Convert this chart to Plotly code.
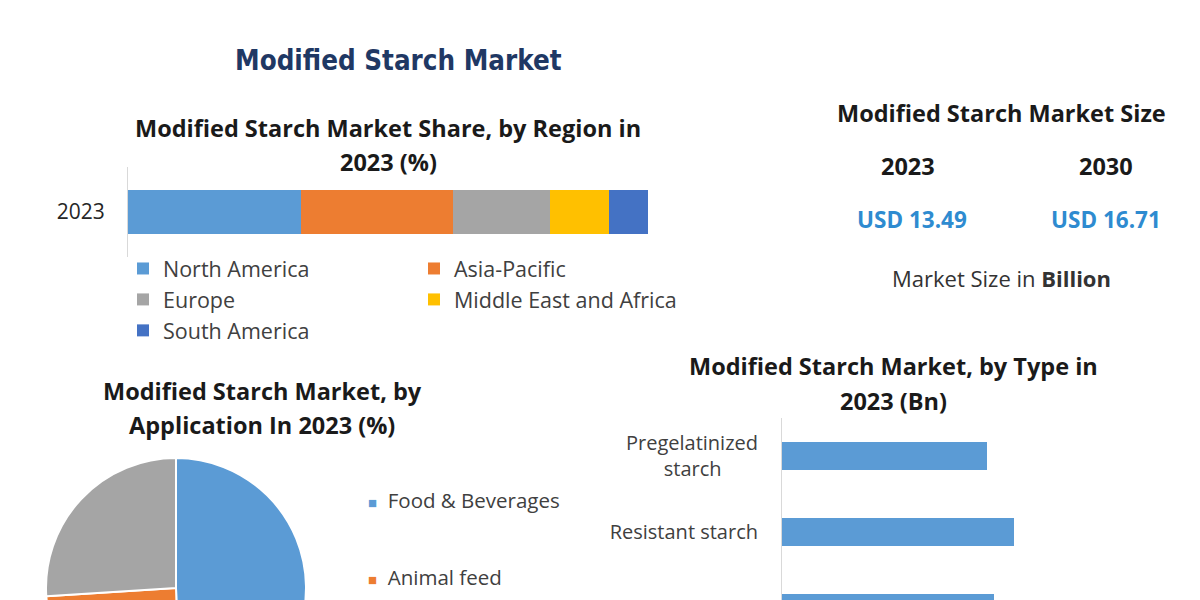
import plotly.graph_objects as go

W, H = 1200, 760

# region share 2023 (%)
region_year = ["2023"]
regions = ["North America", "Asia-Pacific", "Europe", "Middle East and Africa", "South America"]
region_share = [33.3, 29.2, 18.6, 11.4, 7.5]
region_colors = ["#5B9BD5", "#ED7D31", "#A5A5A5", "#FFC000", "#4472C4"]

# application share 2023 (%)
applications = ["Food & Beverages", "Animal feed", "Others"]
application_share = [49.5, 24.5, 26.0]
application_colors = ["#5B9BD5", "#ED7D31", "#A5A5A5"]

# type 2023 (Bn)
types = ["Pregelatinized starch", "Resistant starch", "Etherified starch"]
type_ticktext = ["Pregelatinized<br>starch       ", "Resistant starch", "Etherified starch"]
type_size_bn = [3.55, 4.02, 3.67]

# market size
size_years = ["2023", "2030"]
size_values = ["USD 13.49", "USD 16.71"]

FONT = "Open Sans"
PAGE_OFFSET = 8  # body margin of the html page


def fx(px):
    return (px - PAGE_OFFSET) / W


def fy(py):
    return 1 - (py - PAGE_OFFSET) / H


fig = go.Figure()

for i, (name, val, col) in enumerate(zip(regions, region_share, region_colors)):
    fig.add_trace(go.Bar(
        x=[val], y=region_year, orientation="h", name=name,
        marker=dict(color=col, line=dict(width=0)),
        width=0.49, xaxis="x", yaxis="y",
        legend="legend" if i % 2 == 0 else "legend2",
        legendgroup=name,
    ))

fig.add_trace(go.Pie(
    labels=applications, values=application_share,
    marker=dict(colors=application_colors, line=dict(color="white", width=2)),
    sort=False, direction="clockwise", rotation=0,
    textinfo="none", showlegend=False,
    domain=dict(x=[fx(46), fx(306)], y=[fy(718), fy(458)]),
))

fig.add_trace(go.Bar(
    x=type_size_bn, y=types, orientation="h",
    marker=dict(color="#5B9BD5", line=dict(width=0)),
    width=0.36, xaxis="x2", yaxis="y2", showlegend=False,
))

ann = []


def add_text(text, x, y, size, color="#1a1a1a", bold=True, family=FONT):
    ann.append(dict(
        text=f"<b>{text}</b>" if bold else text,
        x=fx(x), y=fy(y), xref="paper", yref="paper",
        xanchor="center", yanchor="middle", showarrow=False,
        font=dict(size=size, color=color, family=family),
    ))


add_text("Modified Starch Market", 398, 60, 27.5, color="#1F3864",
         family="DejaVu Sans Condensed, Liberation Sans Narrow, Roboto")
add_text("Modified Starch Market Share, by Region in", 388, 128, 23.5)
add_text("2023 (%)", 388, 162, 23.5)
add_text("Modified Starch Market, by", 262, 391, 23.5)
add_text("Application In 2023 (%)", 262, 425, 23.5)
add_text("Modified Starch Market, by Type in", 893, 366, 23.5)
add_text("2023 (Bn)", 893, 401, 23.5)

add_text("Modified Starch Market Size", 1001, 113, 23.5)
for yr, val, cx in zip(size_years, size_values, [908, 1106]):
    add_text(yr, cx, 166, 23.5)
    add_text(val, cx + 4 if cx < 1000 else cx, 219, 22.5, color="#2E8BD0")
add_text("Market Size in <b>Billion</b>", 1001, 278, 22, color="#333333", bold=False)

# pie legend (the rest of the list is below the visible area)
for name, col, cy in zip(applications[:2], application_colors[:2], [500, 577]):
    ann.append(dict(
        text=f"<span style='color:{col};font-size:15px'>■</span>  {name}",
        x=fx(366), y=fy(cy), xref="paper", yref="paper",
        xanchor="left", yanchor="middle", showarrow=False,
        font=dict(size=20.5, color="#404040", family=FONT),
    ))

legend_style = dict(
    xanchor="left", yanchor="top", traceorder="grouped", tracegroupgap=0,
    font=dict(size=21.5, color="#404040", family=FONT),
    bgcolor="rgba(0,0,0,0)", itemclick=False,
)

fig.update_layout(
    width=W, height=H,
    margin=dict(l=0, r=0, t=0, b=0),
    paper_bgcolor="white", plot_bgcolor="white",
    barmode="stack",
    font=dict(family=FONT),
    annotations=ann,
    legend=dict(x=fx(123), y=fy(248), **legend_style),
    legend2=dict(x=fx(414), y=fy(248), **legend_style),
    xaxis=dict(domain=[fx(128), fx(648)], range=[0, 100], visible=False, anchor="y"),
    yaxis=dict(domain=[fy(257), fy(167)], range=[-0.5, 0.5], anchor="x",
               showline=True, linecolor="#D9D9D9", linewidth=1, ticks="",
               showgrid=False, ticklabelstandoff=18,
               tickfont=dict(size=21, color="#262626", family=FONT)),
    xaxis2=dict(domain=[fx(782), 1], range=[0, 426 / 57.7], visible=False, anchor="y2"),
    yaxis2=dict(domain=[fy(646), fy(418)], range=[2.5, -0.5], anchor="x2",
                showline=True, linecolor="#D9D9D9", linewidth=1, ticks="",
                showgrid=False, ticklabelstandoff=19,
                tickmode="array", tickvals=types, ticktext=type_ticktext,
                tickfont=dict(size=20, color="#404040", family=FONT)),
)

fig.write_html("out.html")
